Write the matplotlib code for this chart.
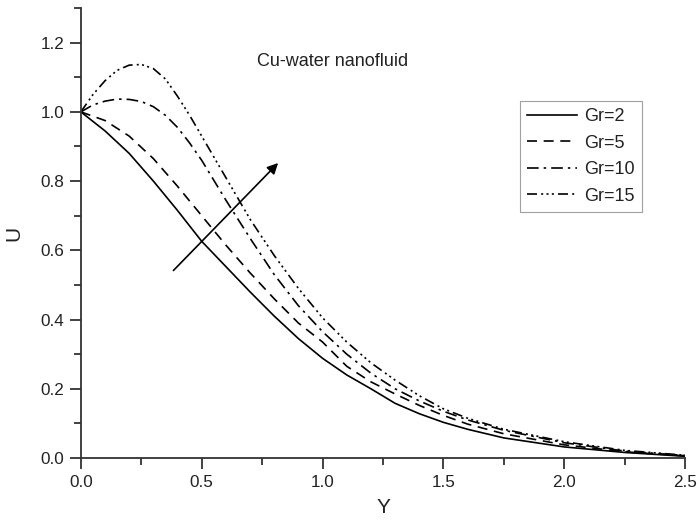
import matplotlib
matplotlib.use("Agg")
import matplotlib.pyplot as plt
from matplotlib.ticker import MultipleLocator, FormatStrFormatter

plt.rcParams['font.family'] = ['Liberation Sans', 'DejaVu Sans']

# Velocity profiles U(Y) for several Grashof numbers
y_gr2 = [0.0, 0.1, 0.2, 0.3, 0.4, 0.5, 0.6, 0.7, 0.8, 0.9, 1.0, 1.1, 1.2, 1.3, 1.4, 1.5, 1.6, 1.75, 2.0, 2.25, 2.5]
u_gr2 = [1.0, 0.945, 0.88, 0.80, 0.715, 0.626, 0.553, 0.48, 0.41, 0.345, 0.288, 0.24, 0.20, 0.158, 0.128, 0.103, 0.083, 0.058, 0.032, 0.016, 0.005]

y_gr5 = [0.0, 0.1, 0.2, 0.3, 0.4, 0.5, 0.6, 0.7, 0.8, 0.9, 1.0, 1.1, 1.2, 1.3, 1.4, 1.5, 1.6, 1.75, 2.0, 2.25, 2.5]
u_gr5 = [1.0, 0.975, 0.93, 0.865, 0.785, 0.70, 0.615, 0.535, 0.46, 0.39, 0.335, 0.265, 0.22, 0.185, 0.152, 0.123, 0.098, 0.07, 0.038, 0.018, 0.006]

y_gr10 = [0.0, 0.05, 0.1, 0.15, 0.2, 0.25, 0.3, 0.35, 0.4, 0.45, 0.5, 0.6, 0.7, 0.8, 0.9, 1.0, 1.1, 1.2, 1.3, 1.4, 1.5, 1.6, 1.75, 2.0, 2.25, 2.5]
u_gr10 = [1.0, 1.02, 1.031, 1.037, 1.036, 1.03, 1.015, 0.99, 0.955, 0.91, 0.86, 0.745, 0.635, 0.53, 0.44, 0.365, 0.30, 0.245, 0.20, 0.165, 0.135, 0.11, 0.08, 0.044, 0.02, 0.007]

y_gr15 = [0.0, 0.05, 0.1, 0.15, 0.2, 0.25, 0.3, 0.35, 0.4, 0.45, 0.5, 0.6, 0.7, 0.8, 0.9, 1.0, 1.1, 1.2, 1.3, 1.4, 1.5, 1.6, 1.75, 2.0, 2.25, 2.5]
u_gr15 = [1.0, 1.05, 1.09, 1.12, 1.135, 1.137, 1.125, 1.095, 1.045, 0.99, 0.93, 0.81, 0.69, 0.585, 0.49, 0.405, 0.335, 0.275, 0.225, 0.18, 0.142, 0.115, 0.083, 0.047, 0.022, 0.008]

fig = plt.figure(figsize=(6.97, 5.22), dpi=100)
ax = fig.add_axes([0.116, 0.1226, 0.867, 0.862])

lw = 1.2
ax.plot(y_gr2, u_gr2, color='black', lw=lw, linestyle='-', label='Gr=2')
ax.plot(y_gr5, u_gr5, color='black', lw=lw, linestyle=(0, (6, 4)), label='Gr=5')
ax.plot(y_gr10, u_gr10, color='black', lw=lw, linestyle=(0, (7, 3, 1.5, 3)), label='Gr=10')
ax.plot(y_gr15, u_gr15, color='black', lw=lw, linestyle=(0, (6, 2.5, 1.2, 2, 1.2, 2, 1.2, 2.5)), label='Gr=15')

# arrow showing increasing Gr
ax.annotate('', xy=(0.824, 0.858), xytext=(0.375, 0.536),
            arrowprops=dict(arrowstyle='-|>', color='black', lw=1.2, mutation_scale=16))

ax.text(0.73, 1.145, 'Cu-water nanofluid', fontsize=13, va='center', ha='left', color='#222222')

ax.set_xlim(0, 2.5)
ax.set_ylim(0, 1.3)
ax.xaxis.set_major_locator(MultipleLocator(0.5))
ax.xaxis.set_minor_locator(MultipleLocator(0.25))
ax.yaxis.set_major_locator(MultipleLocator(0.2))
ax.yaxis.set_minor_locator(MultipleLocator(0.1))
ax.xaxis.set_major_formatter(FormatStrFormatter('%.1f'))
ax.yaxis.set_major_formatter(FormatStrFormatter('%.1f'))

for side in ['top', 'right']:
    ax.spines[side].set_visible(False)
for side in ['left', 'bottom']:
    ax.spines[side].set_linewidth(1.3)
    ax.spines[side].set_color('#333333')

ax.tick_params(which='major', direction='out', length=8, width=1.3, labelsize=12.3,
               color='#333333', labelcolor='#222222', pad=4)
ax.tick_params(which='minor', direction='out', length=5, width=1.3, color='#333333')

ax.set_xlabel('Y', fontsize=15, labelpad=6, color='#222222')
ax.set_ylabel('U', fontsize=15, labelpad=12, color='#222222')

leg = ax.legend(loc='upper left', bbox_to_anchor=(0.726, 0.793), fontsize=13,
                frameon=True, fancybox=False, handlelength=2.8, handletextpad=0.4,
                borderpad=0.4, labelspacing=0.52, borderaxespad=0)
leg.get_frame().set_edgecolor('#888888')
leg.get_frame().set_linewidth(0.8)
for t in leg.get_texts():
    t.set_color('#222222')

fig.savefig('out.png', dpi=100)
